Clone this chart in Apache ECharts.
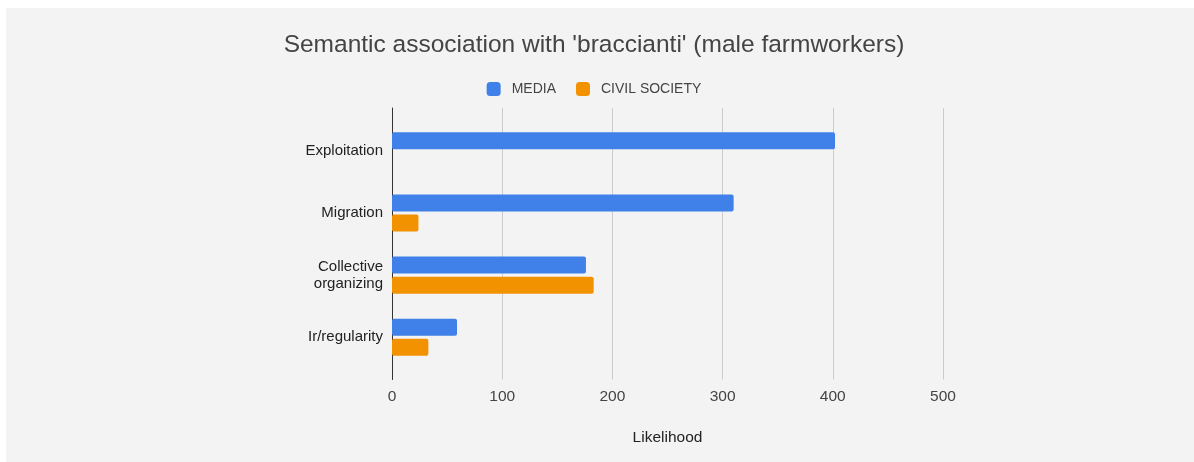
<!DOCTYPE html>
<html>
<head>
<meta charset="utf-8">
<script src="https://cdn.jsdelivr.net/npm/echarts@6/dist/echarts.min.js"></script>
<style>
  html, body { margin: 0; padding: 0; background: #ffffff; width: 1194px; height: 462px; overflow: hidden; }
  #bg { position: absolute; left: 6px; top: 8px; right: 0; bottom: 0; background: #f3f3f3; }
  #chart { position: absolute; left: 0; top: 0; width: 1188px; height: 462px; }
</style>
</head>
<body>
<div id="bg"></div>
<div id="chart"></div>
<script>
const categories = ['Exploitation', 'Migration', 'Collective\norganizing', 'Ir/regularity'];
const mediaValues = [402, 310, 176, 59];
const civilValues = [0, 24, 183, 33];
const xTicks = [0, 100, 200, 300, 400, 500];

const FONT = "'Liberation Sans', Arial, sans-serif";
const chart = echarts.init(document.getElementById('chart'));
chart.setOption({
  backgroundColor: 'transparent',
  animation: false,
  title: {
    text: "Semantic association with 'braccianti' (male farmworkers)",
    left: 'center',
    top: 28,
    textStyle: { fontFamily: FONT, fontSize: 24.5, fontWeight: 'normal', color: '#444444' }
  },
  legend: {
    left: 'center',
    top: 77,
    itemWidth: 14,
    itemHeight: 14,
    itemGap: 20,
    icon: 'roundRect',
    data: ['MEDIA', 'CIVIL SOCIETY'],
    textStyle: { fontFamily: FONT, fontSize: 14, color: '#444444', padding: [0, 0, 0, 6] }
  },
  grid: [
    { left: 392, right: 245, top: 108, height: 271.5, containLabel: false },
    { left: 392, right: 245, top: 119.7, height: 248.7, containLabel: false }
  ],
  xAxis: [
    {
      gridIndex: 0, type: 'value', min: xTicks[0], max: xTicks[xTicks.length - 1], interval: 100,
      name: 'Likelihood', nameLocation: 'middle', nameGap: 50,
      nameTextStyle: { fontFamily: FONT, fontSize: 15.5, color: '#222222' },
      axisLine: { show: false }, axisTick: { show: false },
      axisLabel: { fontFamily: FONT, fontSize: 15.5, color: '#444444', margin: 9 },
      splitLine: { show: true, lineStyle: { color: '#cccccc', width: 1 } }
    },
    {
      gridIndex: 1, type: 'value', min: 0, max: 500, interval: 100, show: false,
      splitLine: { show: false }
    }
  ],
  yAxis: [
    {
      gridIndex: 0, type: 'value', min: 0, max: 1,
      axisLine: { show: true, lineStyle: { color: '#333333', width: 1 } },
      axisTick: { show: false }, axisLabel: { show: false }, splitLine: { show: false }
    },
    {
      gridIndex: 1, type: 'category', data: categories, inverse: true,
      axisLine: { show: false }, axisTick: { show: false }, splitLine: { show: false },
      axisLabel: { fontFamily: FONT, fontSize: 15, color: '#222222', margin: 9, lineHeight: 17, align: 'right' }
    }
  ],
  series: [
    {
      name: 'MEDIA', type: 'bar', xAxisIndex: 1, yAxisIndex: 1, data: mediaValues,
      barWidth: 17, barGap: '18%',
      itemStyle: { color: '#4081e9', borderRadius: 2 }
    },
    {
      name: 'CIVIL SOCIETY', type: 'bar', xAxisIndex: 1, yAxisIndex: 1, data: civilValues,
      barWidth: 17, barGap: '18%',
      itemStyle: { color: '#f39200', borderRadius: 2 }
    }
  ]
});
</script>
</body>
</html>
